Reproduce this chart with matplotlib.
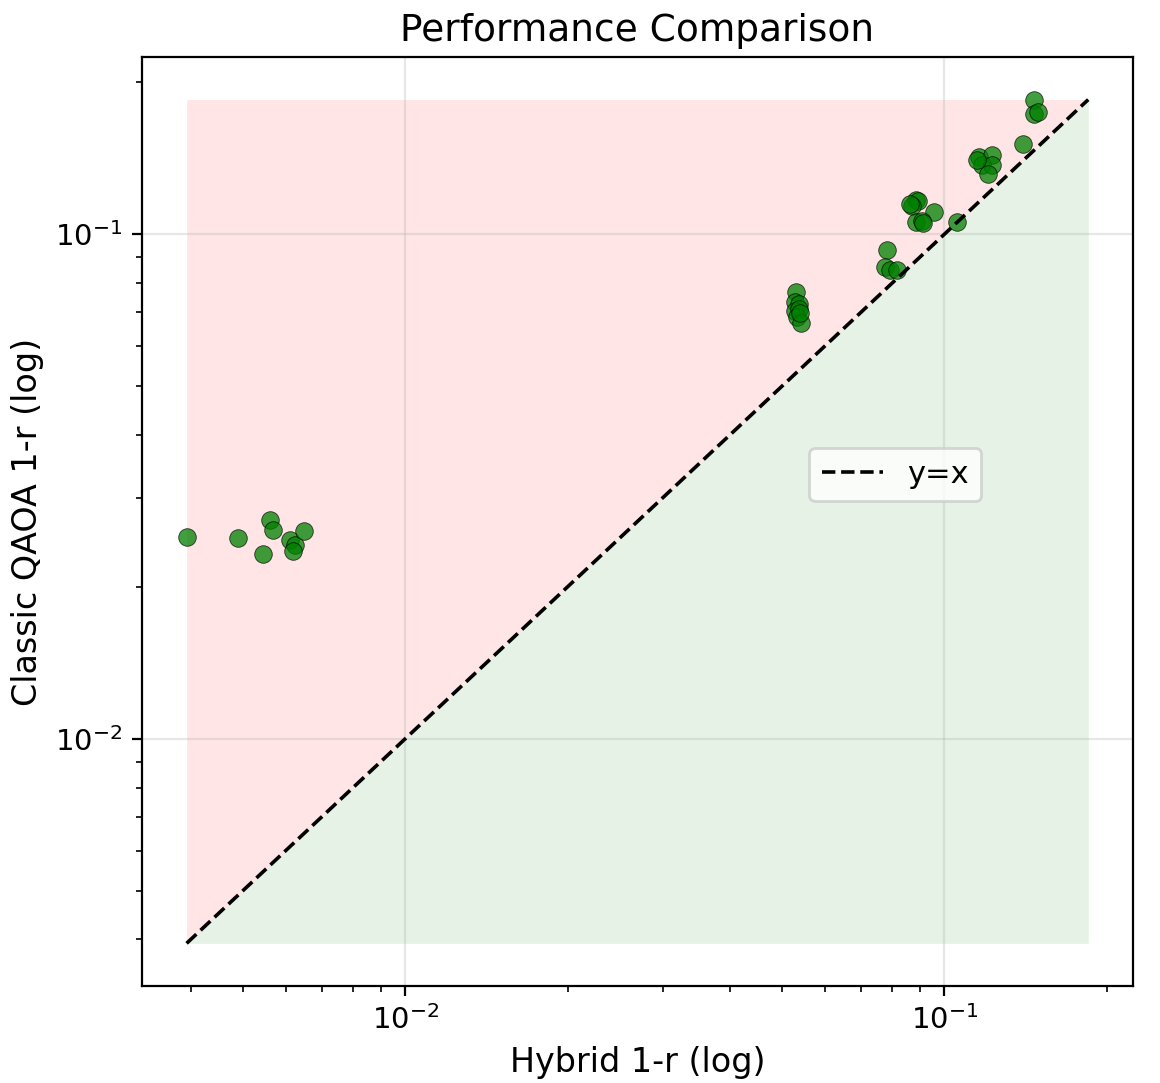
import numpy as np
import matplotlib
matplotlib.use('Agg')
import matplotlib.pyplot as plt

# hybrid 1-r (x) vs classic QAOA 1-r (y)
hybrid_err = [
    0.00393, 0.00489, 0.00560, 0.00568, 0.00545, 0.00612, 0.00625, 0.00619, 0.00650,
    0.0531, 0.0528, 0.0538, 0.0529, 0.0538, 0.0533, 0.0541, 0.0539,
    0.0884, 0.0895, 0.0872, 0.0865, 0.0958, 0.0884, 0.0909, 0.0914, 0.1053,
    0.0783, 0.0777, 0.0794, 0.0818,
    0.1469, 0.1463, 0.1488, 0.1401, 0.1161, 0.1223, 0.1176, 0.1227, 0.1207, 0.1151,
]
classic_err = [
    0.02505, 0.02494, 0.02716, 0.02588, 0.02328, 0.02473, 0.02416, 0.02355, 0.02577,
    0.0767, 0.0734, 0.0727, 0.0703, 0.0712, 0.0686, 0.0668, 0.0698,
    0.1167, 0.1162, 0.1136, 0.1146, 0.1105, 0.1056, 0.1064, 0.1051, 0.1056,
    0.0929, 0.0861, 0.0849, 0.0849,
    0.1848, 0.1734, 0.1750, 0.1506, 0.1420, 0.1432, 0.1369, 0.1369, 0.1314, 0.1400,
]

x = np.array(hybrid_err)
y = np.array(classic_err)

fig, ax = plt.subplots(figsize=(5.8, 5.415), dpi=200)
fig.subplots_adjust(left=0.122, right=0.977, top=0.947, bottom=0.09)

lo = min(x.min(), y.min())
hi = max(x.max(), y.max())
diag = np.logspace(np.log10(lo), np.log10(hi), 200)

ax.fill_between(diag, diag, hi, color='red', alpha=0.1, linewidth=0)
ax.fill_between(diag, lo, diag, color='green', alpha=0.1, linewidth=0)
ax.scatter(x, y, s=40, color='green', alpha=0.75, edgecolors='black', linewidths=0.3, zorder=3)
ax.plot([lo, hi], [lo, hi], 'k--', lw=1.3, label='y=x', zorder=4)

ax.set_xscale('log')
ax.set_yscale('log')
ax.grid(True, which='major', alpha=0.3)
ax.tick_params(labelsize=10.5)
ax.set_xlabel('Hybrid 1-r (log)', fontsize=12)
ax.set_ylabel('Classic QAOA 1-r (log)', fontsize=12)
ax.set_title('Performance Comparison', fontsize=13.5)
ax.legend(loc='upper left', bbox_to_anchor=(0.658, 0.596), fontsize=11)

fig.savefig('out.png', dpi=200)
